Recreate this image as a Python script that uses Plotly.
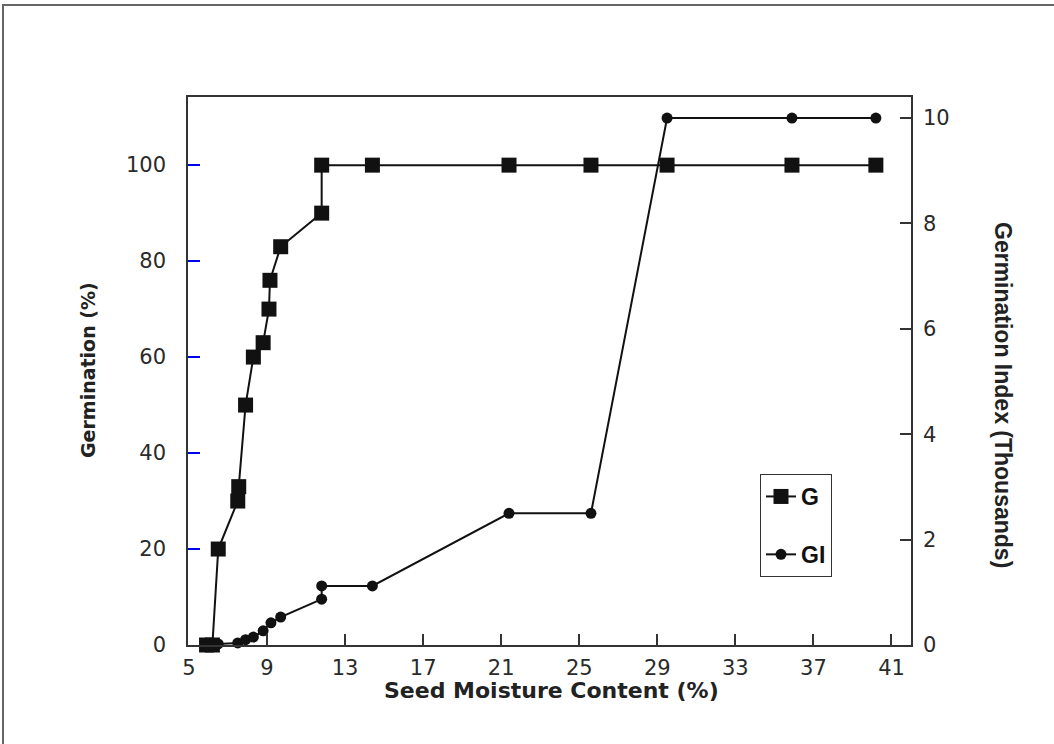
import plotly.graph_objects as go

# Data
g_moisture = [5.9, 6.2, 6.5, 7.5, 7.55, 7.9, 8.3, 8.8, 9.1, 9.15, 9.7, 11.8, 11.8, 14.4, 21.4, 25.6, 29.5, 35.9, 40.2]
g_values = [0, 0, 20, 30, 33, 50, 60, 63, 70, 76, 83, 90, 100, 100, 100, 100, 100, 100, 100]

gi_moisture = [5.9, 6.2, 6.5, 7.5, 7.9, 8.3, 8.8, 9.2, 9.7, 11.8, 11.8, 14.4, 21.4, 25.6, 29.5, 35.9, 40.2]
gi_values = [0, 0, 0.02, 0.04, 0.1, 0.15, 0.27, 0.42, 0.53, 0.87, 1.12, 1.12, 2.5, 2.5, 10, 10, 10]

x_ticks = [5, 9, 13, 17, 21, 25, 29, 33, 37, 41]
y_ticks = [0, 20, 40, 60, 80, 100]
y2_ticks = [0, 2, 4, 6, 8, 10]

TICKFONT = dict(family="DejaVu Sans, sans-serif", size=21, color="#2a2a2a")
AX = "#333333"

fig = go.Figure()
fig.add_trace(go.Scatter(
    x=g_moisture, y=g_values, name="G", mode="lines+markers",
    line=dict(color="#111111", width=2),
    marker=dict(symbol="square", size=15, color="#111111"),
    cliponaxis=False, legendgroup="a",
))
fig.add_trace(go.Scatter(
    x=gi_moisture, y=gi_values, name="GI", mode="lines+markers", yaxis="y2",
    line=dict(color="#111111", width=2),
    marker=dict(symbol="circle", size=11, color="#111111"),
    cliponaxis=False, legendgroup="b",
))

L, R, T, B = 188, 143, 97, 99
W, H = 1054, 744
pw, ph = W - L - R, H - T - B

def px(xp):
    return (xp - L) / pw

def py(yp):
    return (H - B - yp) / ph

fig.update_layout(
    width=W, height=H,
    margin=dict(l=L, r=R, t=T, b=B),
    paper_bgcolor="white", plot_bgcolor="white",
    showlegend=True,
    legend=dict(
        x=px(760), y=py(474), xanchor="left", yanchor="top",
        bordercolor="#333333", borderwidth=1, bgcolor="white",
        font=dict(family="Liberation Sans, Arial, sans-serif", size=23, color="#111111", weight="bold"),
        traceorder="grouped", tracegroupgap=25,
        itemwidth=30,
    ),
    xaxis=dict(
        range=[4.95, 42.0], tickvals=x_ticks, ticks="inside", ticklen=11,
        tickcolor=AX, tickwidth=1.5, showline=True, linecolor=AX, linewidth=1.5,
        mirror=True, showgrid=False, zeroline=False, tickfont=TICKFONT,
        ticklabelstandoff=3,
    ),
    yaxis=dict(
        range=[0, 114.2], tickvals=y_ticks, ticks="inside", ticklen=12,
        tickcolor="#0000ee", tickwidth=1.5, showline=True, linecolor=AX, linewidth=1.5,
        showgrid=False, zeroline=False, tickfont=TICKFONT, ticklabelstandoff=16,
    ),
    yaxis2=dict(
        range=[0, 10.4], tickvals=y2_ticks, overlaying="y", side="right",
        ticks="inside", ticklen=11, tickcolor=AX, tickwidth=1.5,
        showline=True, linecolor=AX, linewidth=1.5, showgrid=False, zeroline=False,
        tickfont=TICKFONT, ticklabelstandoff=6,
    ),
    annotations=[
        dict(text="<b>Germination (%)</b>", x=px(88), y=py(370), xref="paper", yref="paper",
             textangle=-90, showarrow=False, xanchor="center", yanchor="middle",
             font=dict(family="DejaVu Sans, sans-serif", size=19, color="#222222")),
        dict(text="<b>Seed Moisture Content (%)</b>", x=px(551), y=py(690), xref="paper", yref="paper",
             showarrow=False, xanchor="center", yanchor="middle",
             font=dict(family="DejaVu Sans, sans-serif", size=22, color="#222222")),
        dict(text="<b>Germination Index (Thousands)</b>", x=px(1003), y=py(395), xref="paper", yref="paper",
             textangle=90, showarrow=False, xanchor="center", yanchor="middle",
             font=dict(family="Liberation Sans, Arial, sans-serif", size=23, color="#222222")),
    ],
    shapes=[
        dict(type="rect", xref="paper", yref="paper",
             x0=px(3), x1=px(1060), y0=py(750), y1=py(5),
             line=dict(color="#666666", width=2), layer="below"),
    ],
)

fig.write_html("out.html")
